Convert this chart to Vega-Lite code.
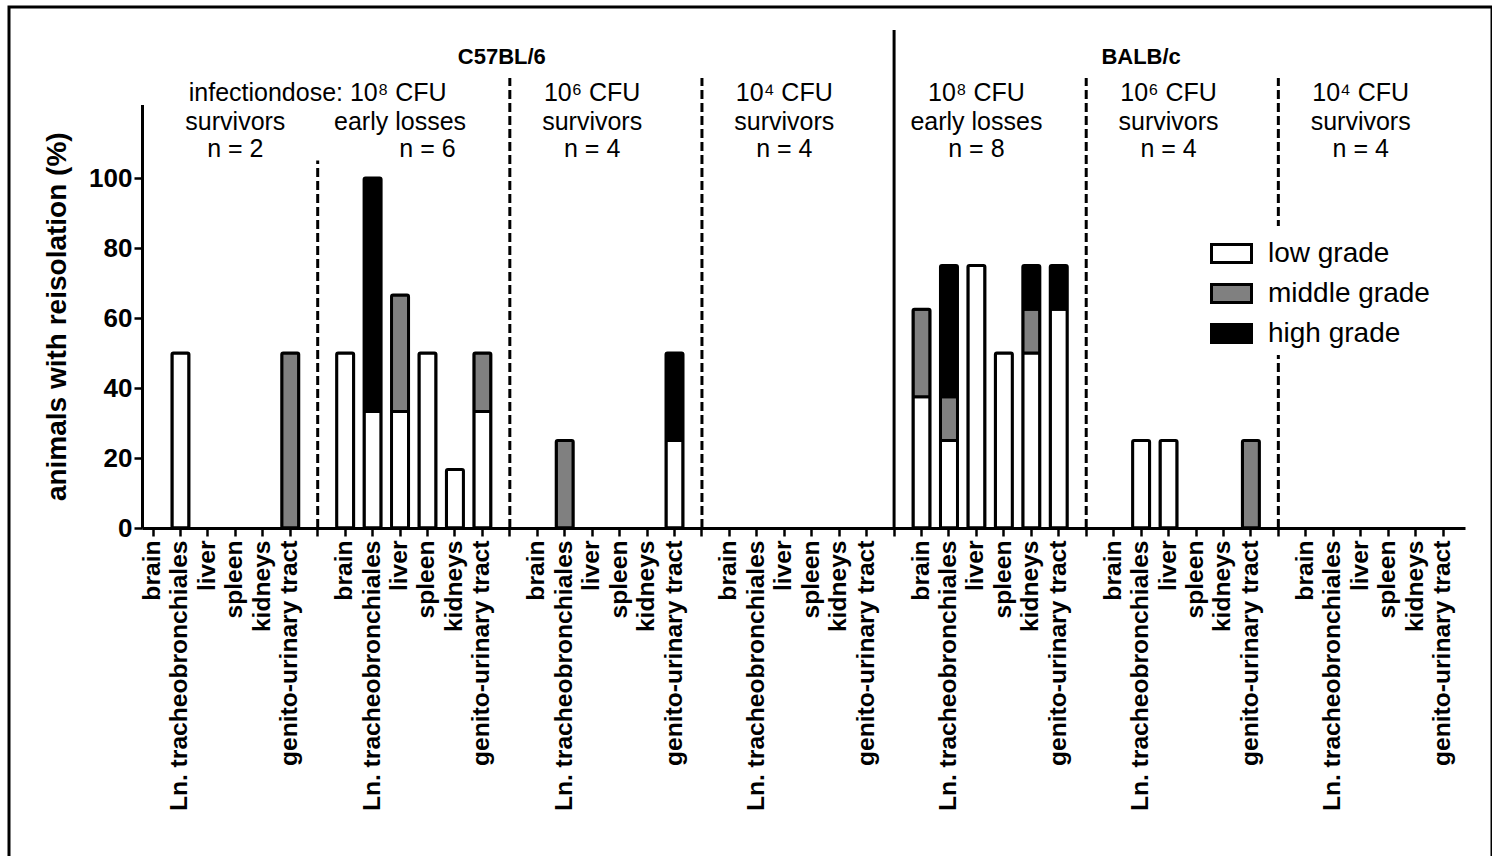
{
  "$schema": "https://vega.github.io/schema/vega-lite/v6.json",
  "autosize": {"type": "none"},
  "padding": {"left": 9, "top": 7, "right": 0, "bottom": 0},
  "width": 1483,
  "height": 852,
  "background": "white",
  "config": {
    "font": "Liberation Sans",
    "view": {"stroke": "black", "strokeWidth": 3},
    "axis": {"grid": false, "domainColor": "black", "tickColor": "black", "labelColor": "black", "titleColor": "black"}
  },
  "encoding": {
    "x": {
      "field": "key",
      "type": "nominal",
      "scale": {
        "domain": [
          "C8s|brain", "C8s|Ln. tracheobronchiales", "C8s|liver", "C8s|spleen", "C8s|kidneys", "C8s|genito-urinary tract", "sep1|",
          "C8e|brain", "C8e|Ln. tracheobronchiales", "C8e|liver", "C8e|spleen", "C8e|kidneys", "C8e|genito-urinary tract", "sep2|",
          "C6s|brain", "C6s|Ln. tracheobronchiales", "C6s|liver", "C6s|spleen", "C6s|kidneys", "C6s|genito-urinary tract", "sep3|",
          "C4s|brain", "C4s|Ln. tracheobronchiales", "C4s|liver", "C4s|spleen", "C4s|kidneys", "C4s|genito-urinary tract", "sep4|",
          "B8e|brain", "B8e|Ln. tracheobronchiales", "B8e|liver", "B8e|spleen", "B8e|kidneys", "B8e|genito-urinary tract", "sep5|",
          "B6s|brain", "B6s|Ln. tracheobronchiales", "B6s|liver", "B6s|spleen", "B6s|kidneys", "B6s|genito-urinary tract", "sep6|",
          "B4s|brain", "B4s|Ln. tracheobronchiales", "B4s|liver", "B4s|spleen", "B4s|kidneys", "B4s|genito-urinary tract"
        ],
        "range": [133, 1456],
        "paddingInner": 0.38,
        "paddingOuter": 0.291,
        "align": 0.157,
        "round": false
      },
      "axis": {
        "title": null,
        "orient": "bottom",
        "offset": -331,
        "labelExpr": "split(datum.value, '|')[1]",
        "labelAngle": -90,
        "labelAlign": "right",
        "labelBaseline": "middle",
        "labelFontSize": 24.6,
        "labelFontWeight": "bold",
        "labelPadding": 4,
        "labelLimit": 500,
        "labelOverlap": false,
        "labelBound": false,
        "labelFlush": false,
        "tickSize": 8,
        "tickWidth": 2.5,
        "domainWidth": 3
      }
    }
  },
  "layer": [
    {
      "data": {"values": [
        {"key": "C8s|Ln. tracheobronchiales", "grade": "low grade", "rank": 1, "value": 50},
        {"key": "C8s|genito-urinary tract", "grade": "middle grade", "rank": 2, "value": 50},
        {"key": "C8e|brain", "grade": "low grade", "rank": 1, "value": 50},
        {"key": "C8e|Ln. tracheobronchiales", "grade": "low grade", "rank": 1, "value": 33.3},
        {"key": "C8e|Ln. tracheobronchiales", "grade": "high grade", "rank": 3, "value": 66.7},
        {"key": "C8e|liver", "grade": "low grade", "rank": 1, "value": 33.3},
        {"key": "C8e|liver", "grade": "middle grade", "rank": 2, "value": 33.3},
        {"key": "C8e|spleen", "grade": "low grade", "rank": 1, "value": 50},
        {"key": "C8e|kidneys", "grade": "low grade", "rank": 1, "value": 16.7},
        {"key": "C8e|genito-urinary tract", "grade": "low grade", "rank": 1, "value": 33.3},
        {"key": "C8e|genito-urinary tract", "grade": "middle grade", "rank": 2, "value": 16.7},
        {"key": "C6s|Ln. tracheobronchiales", "grade": "middle grade", "rank": 2, "value": 25},
        {"key": "C6s|genito-urinary tract", "grade": "low grade", "rank": 1, "value": 25},
        {"key": "C6s|genito-urinary tract", "grade": "high grade", "rank": 3, "value": 25},
        {"key": "B8e|brain", "grade": "low grade", "rank": 1, "value": 37.5},
        {"key": "B8e|brain", "grade": "middle grade", "rank": 2, "value": 25},
        {"key": "B8e|Ln. tracheobronchiales", "grade": "low grade", "rank": 1, "value": 25},
        {"key": "B8e|Ln. tracheobronchiales", "grade": "middle grade", "rank": 2, "value": 12.5},
        {"key": "B8e|Ln. tracheobronchiales", "grade": "high grade", "rank": 3, "value": 37.5},
        {"key": "B8e|liver", "grade": "low grade", "rank": 1, "value": 75},
        {"key": "B8e|spleen", "grade": "low grade", "rank": 1, "value": 50},
        {"key": "B8e|kidneys", "grade": "low grade", "rank": 1, "value": 50},
        {"key": "B8e|kidneys", "grade": "middle grade", "rank": 2, "value": 12.5},
        {"key": "B8e|kidneys", "grade": "high grade", "rank": 3, "value": 12.5},
        {"key": "B8e|genito-urinary tract", "grade": "low grade", "rank": 1, "value": 62.5},
        {"key": "B8e|genito-urinary tract", "grade": "high grade", "rank": 3, "value": 12.5},
        {"key": "B6s|Ln. tracheobronchiales", "grade": "low grade", "rank": 1, "value": 25},
        {"key": "B6s|liver", "grade": "low grade", "rank": 1, "value": 25},
        {"key": "B6s|genito-urinary tract", "grade": "middle grade", "rank": 2, "value": 25}
      ]},
      "mark": {"type": "bar", "stroke": "black", "strokeWidth": 3, "cornerRadius": 1.5},
      "encoding": {
        "y": {
          "field": "value",
          "type": "quantitative",
          "stack": "zero",
          "scale": {"domain": [0, 121], "range": [521, 97.5], "nice": false, "zero": true},
          "axis": {
            "title": "animals with reisolation (%)",
            "orient": "left",
            "offset": -133,
            "values": [0, 20, 40, 60, 80, 100],
            "labelFontSize": 26,
            "labelFontWeight": "bold",
            "labelPadding": 2,
            "tickSize": 8,
            "tickWidth": 2.5,
            "domainWidth": 3,
            "titleFontSize": 28,
            "titleFontWeight": "bold",
            "titlePadding": 17
          }
        },
        "color": {
          "field": "grade",
          "type": "nominal",
          "scale": {"domain": ["low grade", "middle grade", "high grade"], "range": ["#ffffff", "#808080", "#000000"]},
          "legend": {
            "title": null,
            "orient": "none",
            "legendX": 1195,
            "legendY": 219,
            "padding": 6,
            "fillColor": "white",
            "symbolType": "M-1,-0.45H1V0.45H-1Z",
            "symbolSize": 1600,
            "symbolStrokeColor": "black",
            "symbolStrokeWidth": 3,
            "symbolOpacity": 1,
            "labelFontSize": 28,
            "labelColor": "black",
            "labelOffset": 15,
            "labelLimit": 400,
            "rowPadding": 3
          }
        },
        "order": {"field": "rank", "type": "quantitative"}
      }
    },
    {
      "data": {"values": [{"key": "sep2|"}, {"key": "sep3|"}, {"key": "sep5|"}, {"key": "sep6|"}]},
      "mark": {"type": "rule", "color": "black", "strokeWidth": 3, "strokeDash": [9, 4]},
      "encoding": {
        "y": {"datum": 0, "type": "quantitative", "scale": {"domain": [0, 121], "range": [521, 97.5], "nice": false}},
        "y2": {"datum": 128.6}
      }
    },
    {
      "data": {"values": [{"key": "sep1|"}]},
      "mark": {"type": "rule", "color": "black", "strokeWidth": 3, "strokeDash": [9, 4]},
      "encoding": {
        "y": {"datum": 0, "type": "quantitative", "scale": {"domain": [0, 121], "range": [521, 97.5], "nice": false}},
        "y2": {"datum": 105}
      }
    },
    {
      "data": {"values": [{"key": "sep4|"}]},
      "mark": {"type": "rule", "color": "black", "strokeWidth": 3},
      "encoding": {
        "y": {"datum": 0, "type": "quantitative", "scale": {"domain": [0, 121], "range": [521, 97.5], "nice": false}},
        "y2": {"datum": 142.3}
      }
    },
    {
      "data": {"values": [{"key": "sep2|", "label": "C57BL/6"}]},
      "mark": {"type": "text", "fontSize": 22, "fontWeight": "bold", "align": "center", "baseline": "middle", "color": "black", "dx": -8},
      "encoding": {
        "y": {"datum": 134.6, "type": "quantitative", "scale": {"domain": [0, 121], "range": [521, 97.5], "nice": false}},
        "text": {"field": "label"}
      }
    },
    {
      "data": {"values": [{"key": "B6s|Ln. tracheobronchiales", "label": "BALB/c"}]},
      "mark": {"type": "text", "fontSize": 22, "fontWeight": "bold", "align": "center", "baseline": "middle", "color": "black"},
      "encoding": {
        "y": {"datum": 134.6, "type": "quantitative", "scale": {"domain": [0, 121], "range": [521, 97.5], "nice": false}},
        "text": {"field": "label"}
      }
    },
    {
      "data": {"values": [
        {"key": "sep1|", "label": "infectiondose: 10⁸ CFU"},
        {"key": "C6s|liver", "label": "10⁶ CFU"},
        {"key": "C4s|liver", "label": "10⁴ CFU"},
        {"key": "B8e|liver", "label": "10⁸ CFU"},
        {"key": "B6s|liver", "label": "10⁶ CFU"},
        {"key": "B4s|liver", "label": "10⁴ CFU"}
      ]},
      "mark": {"type": "text", "fontSize": 25, "align": "center", "baseline": "middle", "color": "black"},
      "encoding": {
        "y": {"datum": 124.3, "type": "quantitative", "scale": {"domain": [0, 121], "range": [521, 97.5], "nice": false}},
        "text": {"field": "label"}
      }
    },
    {
      "data": {"values": [
        {"key": "C8s|spleen", "label": "survivors"},
        {"key": "C8e|liver", "label": "early losses"},
        {"key": "C6s|liver", "label": "survivors"},
        {"key": "C4s|liver", "label": "survivors"},
        {"key": "B8e|liver", "label": "early losses"},
        {"key": "B6s|liver", "label": "survivors"},
        {"key": "B4s|liver", "label": "survivors"}
      ]},
      "mark": {"type": "text", "fontSize": 25, "align": "center", "baseline": "middle", "color": "black"},
      "encoding": {
        "y": {"datum": 116, "type": "quantitative", "scale": {"domain": [0, 121], "range": [521, 97.5], "nice": false}},
        "text": {"field": "label"}
      }
    },
    {
      "data": {"values": [
        {"key": "C8s|spleen", "label": "n = 2"},
        {"key": "C8e|spleen", "label": "n = 6"},
        {"key": "C6s|liver", "label": "n = 4"},
        {"key": "C4s|liver", "label": "n = 4"},
        {"key": "B8e|liver", "label": "n = 8"},
        {"key": "B6s|liver", "label": "n = 4"},
        {"key": "B4s|liver", "label": "n = 4"}
      ]},
      "mark": {"type": "text", "fontSize": 25, "align": "center", "baseline": "middle", "color": "black"},
      "encoding": {
        "y": {"datum": 108.3, "type": "quantitative", "scale": {"domain": [0, 121], "range": [521, 97.5], "nice": false}},
        "text": {"field": "label"}
      }
    }
  ]
}
